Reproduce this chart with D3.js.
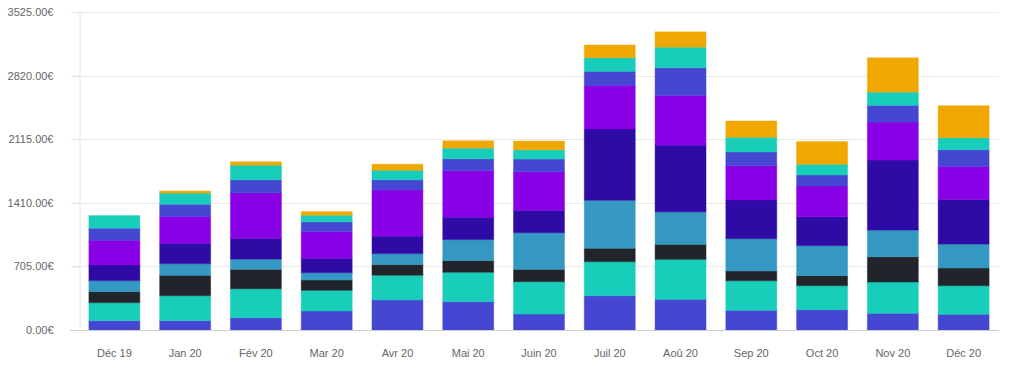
<!DOCTYPE html>
<html>
<head>
<meta charset="utf-8">
<script src="https://cdn.jsdelivr.net/npm/d3@7"></script>
<style>
  html, body { margin: 0; padding: 0; background: #fff; }
  svg { display: block; }
  text { font-family: "Liberation Sans", Arial, sans-serif; }
</style>
</head>
<body>
<svg id="chart" width="1017" height="379"></svg>
<script>
const categories = ["Déc 19", "Jan 20", "Fév 20", "Mar 20", "Avr 20", "Mai 20", "Juin 20", "Juil 20", "Aoû 20", "Sep 20", "Oct 20", "Nov 20", "Déc 20"];

// Series stacked bottom to top
const s1 = [103, 103, 136, 211, 333, 314, 177, 380, 340, 218, 225, 185, 174];
const s2 = [200, 277, 321, 229, 274, 326, 358, 377, 443, 328, 266, 347, 317];
const s3 = [122, 226, 215, 114, 118, 129, 137, 149, 166, 108, 111, 280, 196];
const s4 = [122, 129, 114, 81, 122, 233, 406, 532, 361, 358, 333, 296, 266];
const s5 = [174, 226, 229, 160, 193, 248, 248, 790, 739, 429, 321, 776, 495];
const s6 = [274, 299, 505, 295, 513, 517, 428, 484, 551, 380, 340, 421, 366];
const s7 = [133, 133, 144, 108, 111, 130, 141, 155, 306, 152, 122, 185, 184];
const s8 = [140, 125, 163, 74, 107, 119, 103, 151, 229, 163, 119, 147, 133];
const s9 = [0, 22, 37, 40, 67, 81, 96, 141, 170, 181, 251, 380, 355];

const seriesValues = [s1, s2, s3, s4, s5, s6, s7, s8, s9];
const seriesColors = ["#4547d3", "#18cdb9", "#21252b", "#3598c2", "#2f0ba5", "#8900e6", "#4547d3", "#18cdb9", "#f0a800"];

const yTicks = [0, 705, 1410, 2115, 2820, 3525];

const svg = d3.select("#chart");
const margin = {left: 79, right: 18, top: 12, bottom: 49};
const W = 1017, H = 379;
const x0 = margin.left, x1 = W - margin.right;
const yBase = H - margin.bottom;

const x = d3.scaleBand().domain(categories).range([x0, x1]).paddingInner(0.28).paddingOuter(0.14);
const y = d3.scaleLinear().domain([0, 3525]).range([yBase, margin.top]);

// gridlines
svg.append("g").selectAll("line").data(yTicks.filter(d => d > 0)).join("line")
  .attr("x1", x0 - 8).attr("x2", x1)
  .attr("y1", d => Math.round(y(d)) + 0.5).attr("y2", d => Math.round(y(d)) + 0.5)
  .attr("stroke", "#ebebeb").attr("stroke-width", 1);

// y axis
const yAxis = d3.axisLeft(y).tickValues(yTicks).tickSize(8).tickPadding(18)
  .tickFormat(d => d3.format(".2f")(d) + "€");
const gy = svg.append("g").attr("transform", `translate(${x0 + 0.5},0)`).call(yAxis);
gy.select(".domain").attr("stroke", "#e4e4e4");
gy.selectAll(".tick line").attr("stroke", "#e4e4e4");
gy.selectAll(".tick text").attr("fill", "#666").attr("font-size", 11)
  .attr("font-family", "'Liberation Sans', Arial, sans-serif");

// stack data
const table = categories.map((c, i) => {
  const o = {cat: c};
  seriesValues.forEach((s, k) => { o["s" + k] = s[i]; });
  return o;
});
const keys = seriesValues.map((s, k) => "s" + k);
const stacked = d3.stack().keys(keys)(table);

svg.append("g").selectAll("g").data(stacked).join("g")
  .attr("fill", (d, i) => seriesColors[i])
  .attr("stroke", (d, i) => seriesColors[i])
  .selectAll("rect").data(d => d.filter(p => p[1] - p[0] > 0)).join("rect")
  .attr("x", d => x(d.data.cat))
  .attr("width", x.bandwidth())
  .attr("y", d => y(d[1]))
  .attr("height", d => y(d[0]) - y(d[1]))
  .attr("stroke-opacity", 0.45)
  .attr("stroke-width", 1);

// x axis
const xAxis = d3.axisBottom(x).tickSize(0).tickPadding(19);
const gx = svg.append("g").attr("transform", `translate(0,${yBase + 0.5})`).call(xAxis);
gx.select(".domain").remove();
svg.append("line").attr("x1", x0 - 9).attr("x2", x1).attr("y1", yBase + 0.5).attr("y2", yBase + 0.5)
  .attr("stroke", "#cccccc");
gx.selectAll(".tick text").attr("fill", "#666").attr("font-size", 11)
  .attr("font-family", "'Liberation Sans', Arial, sans-serif");
</script>
</body>
</html>
